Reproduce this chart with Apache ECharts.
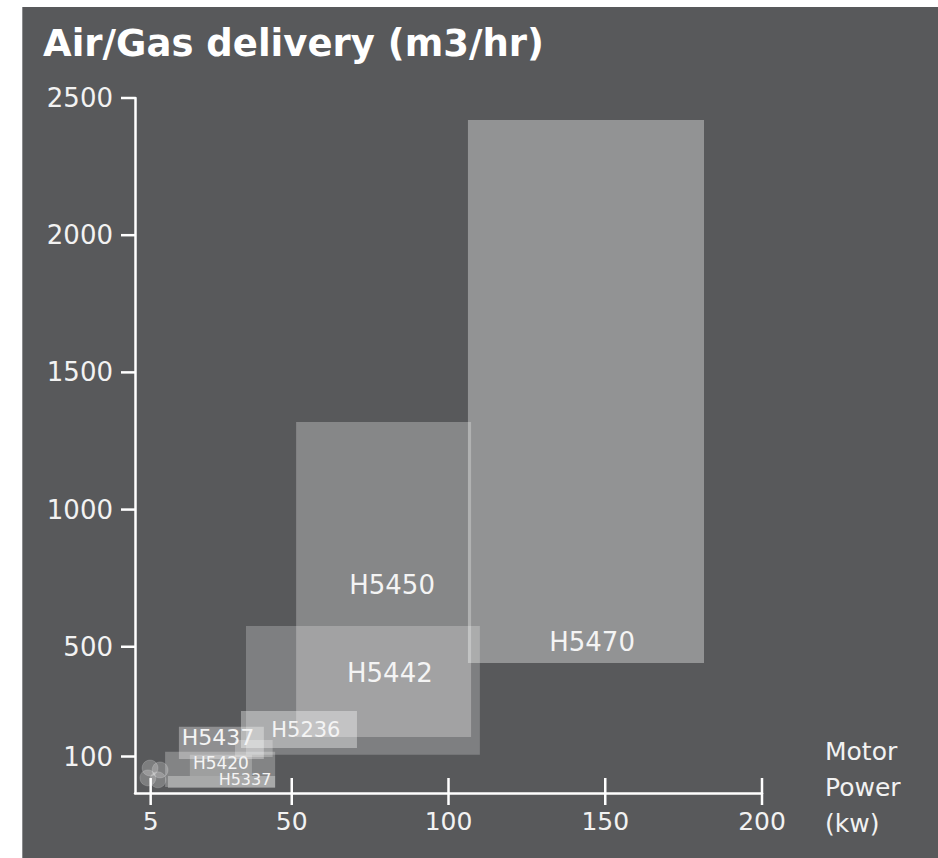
<!DOCTYPE html>
<html><head><meta charset="utf-8">
<script src="https://cdn.jsdelivr.net/npm/echarts@6/dist/echarts.min.js"></script>
<style>html,body{margin:0;padding:0;background:#fff}#c{width:938px;height:858px}</style>
</head><body><div id="c"></div>
<script>
// ---- data (motor power kW, air/gas delivery m3/hr) ----
const models   = ['H5470', 'H5450', 'H5442', 'H5236', 'H5437', 'H5420', 'H5337'];
const powerMin = [106.2, 51.4, 35.4, 33.8, 14.0,  9.6, 10.5];
const powerMax = [181.5, 107.2, 110.0, 70.8, 41.1, 44.7, 44.7];
const flowMin  = [441, 171, 106, 131,  91, -11, -15];
const flowMax  = [2420, 1319, 576, 266, 208, 117, 29];
// label anchor (in data units)
const labelPower = [145.8, 82.0, 81.3, 54.5, 26.5, 27.4, 35.1];
const labelFlow  = [517, 725, 405, 197, 168, 77, 15];
// extra overlapping variant ranges (unlabelled)
const extraPowerMin = [31.9, 17.5];
const extraPowerMax = [43.9, 37.3];
const extraFlowMin  = [98, 29];
const extraFlowMax  = [160, 106];
// smallest units (points)
const smallPower = [4.8, 8.0, 4.1, 7.3];
const smallFlow  = [58, 51, 22, 15];
// ticks
const xTicks = [5, 50, 100, 150, 200];
const yTicks = [100, 500, 1000, 1500, 2000, 2500];
const yMin = -33, yMax = 2500, xMin = 0, xMax = 200;

// ---- styles ----
const fillAlpha = [0.35, 0.28, 0.23, 0.36, 0.33, 0.26, 0.3];
const extraAlpha = [0.25, 0.22];
const labelSize = [26, 26, 26, 21, 22, 17, 16];
const FONT = 'DejaVu Sans';

const rectData = [];
models.forEach((m, i) => rectData.push([powerMin[i], powerMax[i], flowMin[i], flowMax[i], fillAlpha[i]]));
extraPowerMin.forEach((v, i) => rectData.push([v, extraPowerMax[i], extraFlowMin[i], extraFlowMax[i], extraAlpha[i]]));
const labelData = models.map((m, i) => [labelPower[i], labelFlow[i], m, labelSize[i]]);

const chart = echarts.init(document.getElementById('c'), null, {renderer: 'svg'});
chart.setOption({
  backgroundColor: '#ffffff',
  animation: false,
  graphic: [
    {type: 'rect', z: -10, silent: true, shape: {x: 22, y: 7, width: 916, height: 851}, style: {fill: '#58595b'}},
    {type: 'rect', z: -9, silent: true, shape: {x: 22, y: 7, width: 1, height: 851}, style: {fill: '#8a8b8d'}},
    {type: 'text', z: 10, left: 825, top: 733, style: {text: 'Motor\nPower\n(kw)', fill: '#f2f2f2', font: '25px "DejaVu Sans"', lineHeight: 36}}
  ],
  title: {
    text: 'Air/Gas delivery (m3/hr)', left: 38, top: 20,
    textStyle: {color: '#ffffff', fontSize: 37, fontWeight: 'bold', fontFamily: FONT}
  },
  grid: {left: 135, right: 176, top: 98, bottom: 65},
  xAxis: {
    type: 'value', min: xMin, max: xMax,
    axisLine: {show: true, onZero: false, lineStyle: {color: '#ffffff', width: 2.5}},
    axisTick: {show: false},
    axisLabel: {customValues: xTicks, color: '#f2f2f2', fontSize: 25, fontFamily: FONT, margin: 16,
                formatter: v => String(v)},
    splitLine: {show: false}
  },
  yAxis: {
    type: 'value', min: yMin, max: yMax,
    axisLine: {show: true, onZero: false, lineStyle: {color: '#ffffff', width: 2.5}},
    axisTick: {show: false},
    axisLabel: {customValues: yTicks, color: '#f2f2f2', fontSize: 26, fontFamily: FONT, margin: 22,
                formatter: v => String(v)},
    splitLine: {show: false}
  },
  series: [{
    type: 'custom', silent: true, z: 2,
    data: rectData,
    encode: {x: [0, 1], y: [2, 3]},
    renderItem: function (params, api) {
      const p0 = api.coord([api.value(0), api.value(3)]);
      const p1 = api.coord([api.value(1), api.value(2)]);
      return {type: 'rect', shape: {x: p0[0], y: p0[1], width: p1[0] - p0[0], height: p1[1] - p0[1]},
              style: {fill: 'rgba(255,255,255,' + api.value(4) + ')'}};
    }
  }, {
    type: 'scatter', silent: true, z: 3,
    data: smallPower.map((v, i) => [v, smallFlow[i]]),
    symbolSize: 16,
    itemStyle: {color: 'rgba(255,255,255,0.28)', borderColor: 'rgba(255,255,255,0.2)', borderWidth: 1}
  }, {
    type: 'custom', silent: true, z: 5,
    data: labelData,
    encode: {x: 0, y: 1},
    renderItem: function (params, api) {
      const p = api.coord([api.value(0), api.value(1)]);
      return {type: 'text', x: p[0], y: p[1],
              style: {text: labelData[params.dataIndex][2], fill: '#f4f4f4', align: 'center', verticalAlign: 'middle',
                      font: labelData[params.dataIndex][3] + 'px "DejaVu Sans"'}};
    }
  }, {
    // x-axis ticks crossing the axis line
    type: 'custom', silent: true, z: 6,
    data: xTicks.map(v => [v, yMin]),
    encode: {x: 0, y: 1},
    clip: false,
    renderItem: function (params, api) {
      const p = api.coord([api.value(0), api.value(1)]);
      return {type: 'line', shape: {x1: p[0], y1: p[1] - 15, x2: p[0], y2: p[1] + 12},
              style: {stroke: '#ffffff', lineWidth: 2.5}};
    }
  }, {
    // y-axis ticks (outside, to the left)
    type: 'custom', silent: true, z: 6,
    data: yTicks.map(v => [xMin, v]),
    encode: {x: 0, y: 1},
    clip: false,
    renderItem: function (params, api) {
      const p = api.coord([api.value(0), api.value(1)]);
      return {type: 'line', shape: {x1: p[0] - 14, y1: p[1], x2: p[0], y2: p[1]},
              style: {stroke: '#ffffff', lineWidth: 2.5}};
    }
  }]
});
</script>
</body></html>
